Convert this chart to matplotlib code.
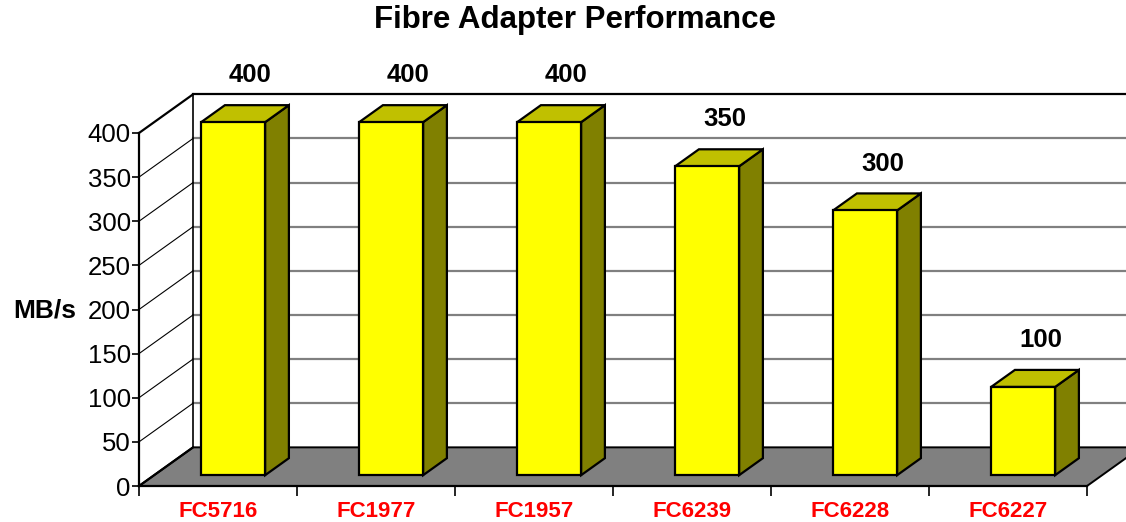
import matplotlib
matplotlib.use("Agg")
import matplotlib.pyplot as plt
from matplotlib.patches import Polygon

plt.rcParams['font.family'] = ['Liberation Sans', 'DejaVu Sans']

# data
adapters = ['FC5716', 'FC1977', 'FC1957', 'FC6239', 'FC6228', 'FC6227']
speeds = [400, 400, 400, 350, 300, 100]
y_ticks = list(range(0, 401, 50))

# fake 3d: how far the back wall is shifted (in data units)
DEPTH_X = 0.342
DEPTH_Y = 43.8
BAR_W = 0.405
D_FRONT, D_BACK = 0.28, 0.72


def proj(x, y, d):
    return (x + d * DEPTH_X, y + d * DEPTH_Y)


fig = plt.figure(figsize=(11.26, 5.22), dpi=100)
ax = fig.add_axes([139 / 1126, 36 / 522, 948 / 1126, 353 / 522])
n = len(adapters)
ymax = y_ticks[-1]
ax.set_xlim(0, n)
ax.set_ylim(0, ymax)
ax.patch.set_visible(False)

#back wall gridlines
for v in y_ticks[1:-1]:
    xs, ys = zip(proj(0, v, 1), proj(n + 0.3, v, 1))
    ax.plot(xs, ys, color='#808080', lw=1.6, clip_on=False, zorder=1)
xs, ys = zip(proj(0, ymax, 1), proj(n + 0.3, ymax, 1))
ax.plot(xs, ys, color='black', lw=1.6, clip_on=False, zorder=1)
xs, ys = zip(proj(0, 0, 1), proj(0, ymax, 1))
ax.plot(xs, ys, color='black', lw=1.2, clip_on=False, zorder=1)

# left side wall lines
for v in y_ticks:
    xs, ys = zip(proj(0, v, 0), proj(0, v, 1))
    lw = 1.6 if v in (0, ymax) else 0.8
    ax.plot(xs, ys, color='black', lw=lw, clip_on=False, zorder=1.5)

# floor
floor = Polygon([proj(0, 0, 0), proj(n, 0, 0), proj(n, 0, 1), proj(n + 0.3, 0, 1),
                 proj(n + 0.3, 0, 1), proj(0, 0, 1)],
                closed=True, facecolor='#808080', edgecolor='black', lw=1.4,
                clip_on=False, zorder=1.2)
ax.add_patch(floor)

# bars
for i, v in enumerate(speeds):
    x0 = i + 0.5 - BAR_W / 2
    x1 = x0 + BAR_W
    front = [proj(x0, 0, D_FRONT), proj(x1, 0, D_FRONT), proj(x1, v, D_FRONT), proj(x0, v, D_FRONT)]
    top = [proj(x0, v, D_FRONT), proj(x1, v, D_FRONT), proj(x1, v, D_BACK), proj(x0, v, D_BACK)]
    side = [proj(x1, 0, D_FRONT), proj(x1, 0, D_BACK), proj(x1, v, D_BACK), proj(x1, v, D_FRONT)]
    for pts, col in ((side, '#808000'), (top, '#C0C000'), (front, '#FFFF00')):
        ax.add_patch(Polygon(pts, closed=True, facecolor=col, edgecolor='black',
                             lw=1.6, joinstyle='miter', clip_on=False, zorder=3))
    lx, ly = proj(i + 0.5, v, 0.6)
    ax.annotate(str(v), (lx, proj(0, v, D_BACK)[1]), xytext=(0, 21.5), textcoords='offset points',
                ha='center', va='center', fontsize=18.5, fontweight='bold', annotation_clip=False)

# axes
for s in ('top', 'right'):
    ax.spines[s].set_visible(False)
for s in ('left', 'bottom'):
    ax.spines[s].set_linewidth(1.6)
    ax.spines[s].set_zorder(4)
ax.set_yticks(y_ticks)
ax.tick_params(axis='y', length=5, width=1.2, labelsize=18.5, pad=1)
ax.set_xticks(range(n + 1))
ax.set_xticklabels([])
ax.tick_params(axis='x', which='major', length=7, width=1.2)
ax.set_xticks([i + 0.5 for i in range(n)], minor=True)
ax.set_xticklabels(adapters, minor=True, color='red', fontweight='bold', fontsize=16)
ax.tick_params(axis='x', which='minor', length=0, pad=10.5)

fig.text(45 / 1126, 1 - 310 / 522, 'MB/s', ha='center', va='center', fontsize=19, fontweight='bold')
fig.text(575 / 1126, 1 - 20 / 522, 'Fibre Adapter Performance', ha='center', va='center',
         fontsize=22.5, fontweight='bold')

fig.savefig('out.png', dpi=100)
